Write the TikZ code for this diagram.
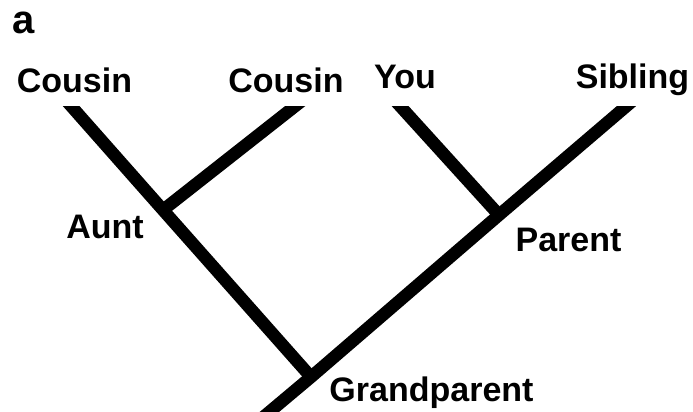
\documentclass[tikz,border=0pt]{standalone}
\usepackage{fontspec}
\setmainfont{Liberation Sans}
\usetikzlibrary{positioning}

\begin{document}
\begin{tikzpicture}[
x=0.5pt, y=-0.5pt,
font=\fontsize{17}{20}\selectfont\bfseries,
lbl/.style={inner sep=0pt, anchor=base},
branch/.style={line width=6.25pt, line cap=butt, line join=miter}
]
\useasboundingbox (0,0) rectangle (693,412);
\node[lbl, anchor=base west, font=\fontsize{20}{24}\selectfont\bfseries] (panel) at (12,33) {a};
\node[lbl] (cousinL) at (74.5,92) {Cousin};
\node[lbl] (cousinR) at (286,92) {Cousin};
\node[lbl] (you) at (405,89) {You};
\node[lbl] (sibling) at (632.5,89) {Sibling};
\node[lbl] (aunt) at (105,239) {Aunt};
\node[lbl] (parent) at (568.5,251) {Parent};
\node[lbl] (grandparent) at (431.5,401) {Grandparent};
% branch points
\coordinate (cousinLtip) at (65.8,100);
\coordinate (cousinRtip) at (302.9,100);
\coordinate (youtip) at (394.6,100);
\coordinate (siblingtip) at (633.6,100);
\coordinate (auntpt) at (163,210);
\coordinate (parentpt) at (499,215);
\coordinate (grandpt) at (311,377);
\coordinate (root) at (259.8,420);
\begin{scope}
\clip (0,106.5) rectangle (693,412);
\draw[branch] (cousinLtip) -- (auntpt) -- (grandpt);
\draw[branch] (cousinRtip) -- (auntpt);
\draw[branch] (youtip) -- (parentpt);
\draw[branch] (siblingtip) -- (parentpt) -- (grandpt) -- (root);
\end{scope}
\end{tikzpicture}
\end{document}
